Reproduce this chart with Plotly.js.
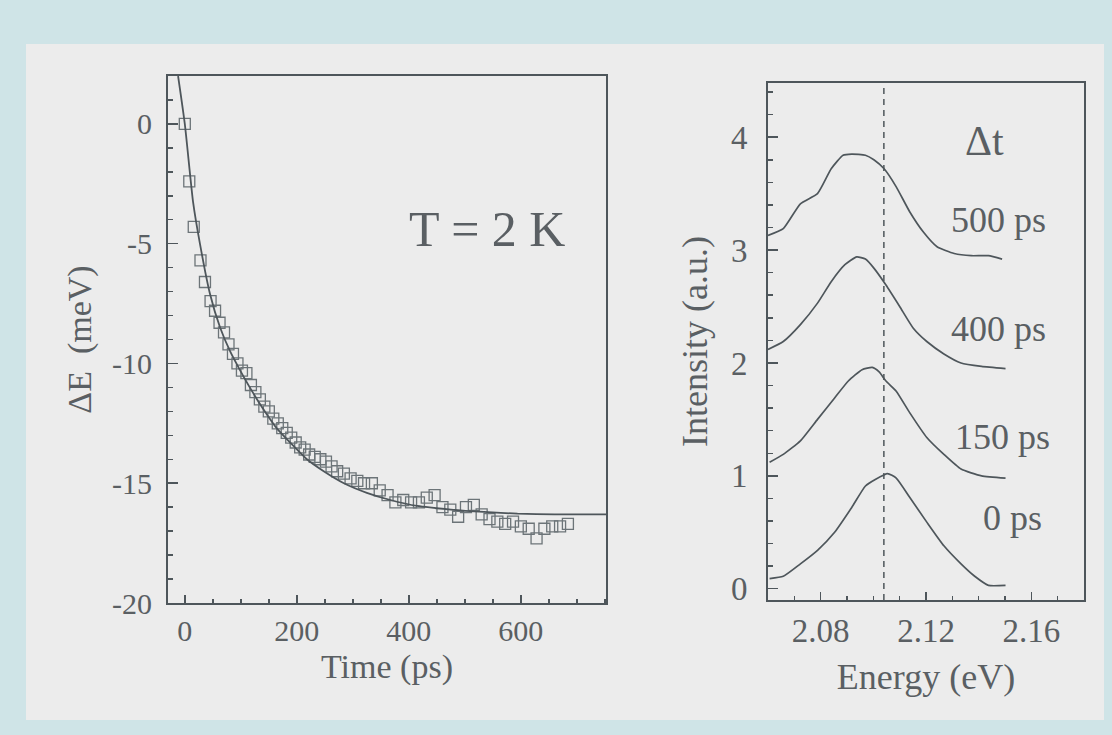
<!DOCTYPE html>
<html>
<head>
<meta charset="utf-8">
<script src="https://cdn.plot.ly/plotly-3.0.1.min.js"></script>
<style>
  html, body { margin: 0; padding: 0; width: 1112px; height: 735px; background: #cfe4e7; overflow: hidden; }
  #paper { position: absolute; left: 26px; top: 44px; width: 1078px; height: 676px; background: #ececec; }
  #plot { position: absolute; left: 0; top: 0; width: 1112px; height: 735px; }
</style>
</head>
<body>
<div id="paper"></div>
<div id="plot"></div>
<script>
// ---- Left panel: energy shift vs time (T = 2 K) ----
const timePs = [0, 8, 16, 28, 36, 46, 54, 62, 70, 78, 86, 94, 102, 110, 118, 126, 134, 142, 150, 158, 166, 174, 182, 190, 198, 206, 214, 222, 232, 242, 252, 262, 272, 284, 296, 308, 320, 334, 348, 362, 376, 390, 404, 418, 432, 446, 460, 474, 488, 502, 516, 530, 544, 558, 572, 586, 600, 614, 628, 642, 656, 670, 684];
const deltaE = [0, -2.4, -4.3, -5.7, -6.6, -7.4, -7.8, -8.3, -8.7, -9.2, -9.6, -10.0, -10.3, -10.4, -10.9, -11.2, -11.5, -11.8, -12.0, -12.3, -12.5, -12.7, -12.9, -13.1, -13.3, -13.5, -13.6, -13.8, -13.9, -14.0, -14.1, -14.3, -14.5, -14.6, -14.8, -14.9, -15.0, -15.0, -15.3, -15.5, -15.8, -15.7, -15.8, -15.8, -15.6, -15.5, -16.0, -16.1, -16.4, -16.0, -15.9, -16.3, -16.5, -16.6, -16.7, -16.6, -16.8, -16.9, -17.3, -16.9, -16.8, -16.8, -16.7];
const fitTime = [-12, 0, 15, 27, 45, 63, 81, 99, 116, 140, 164, 188, 218, 248, 284, 325, 367, 415, 475, 534, 594, 660, 755];
const fitDeltaE = [2.0, 0, -3.3, -5.0, -7.1, -8.5, -9.5, -10.3, -11.0, -11.9, -12.7, -13.3, -14.0, -14.5, -15.0, -15.4, -15.7, -15.95, -16.1, -16.2, -16.27, -16.3, -16.3];
const leftYTicks = [0, -5, -10, -15, -20];
const leftYTickText = ['0', '-5', '-10', '-15', '-20'];
const leftXTicks = [0, 200, 400, 600];

// ---- Right panel: spectra at different delays ----
const spectraLabels = ['0 ps', '150 ps', '400 ps', '500 ps'];
const energy0 = [2.0606, 2.0658, 2.0723, 2.0788, 2.0853, 2.0918, 2.0970, 2.1009, 2.1054, 2.1087, 2.1138, 2.1203, 2.1268, 2.1333, 2.1385, 2.1437, 2.1502];
const intensity0 = [0.09, 0.11, 0.22, 0.34, 0.50, 0.72, 0.91, 0.97, 1.02, 0.98, 0.81, 0.59, 0.38, 0.22, 0.11, 0.03, 0.03];
const energy150 = [2.0606, 2.0658, 2.0723, 2.0788, 2.0853, 2.0905, 2.0957, 2.0996, 2.1022, 2.1048, 2.1087, 2.1138, 2.1203, 2.1268, 2.1333, 2.1411, 2.1502];
const intensity150 = [1.12, 1.19, 1.31, 1.50, 1.69, 1.84, 1.94, 1.96, 1.92, 1.84, 1.75, 1.56, 1.34, 1.19, 1.06, 1.00, 0.98];
const energy400 = [2.0600, 2.0658, 2.0723, 2.0788, 2.0840, 2.0892, 2.0937, 2.0970, 2.1002, 2.1048, 2.1100, 2.1151, 2.1203, 2.1268, 2.1333, 2.1411, 2.1502];
const intensity400 = [2.12, 2.19, 2.34, 2.53, 2.72, 2.87, 2.94, 2.92, 2.84, 2.69, 2.50, 2.31, 2.19, 2.08, 2.00, 1.97, 1.95];
const energy500 = [2.0600, 2.0658, 2.0723, 2.0788, 2.0840, 2.0885, 2.0918, 2.0970, 2.1002, 2.1041, 2.1087, 2.1138, 2.1190, 2.1242, 2.1307, 2.1372, 2.1437, 2.1489];
const intensity500 = [3.13, 3.19, 3.41, 3.50, 3.72, 3.84, 3.85, 3.84, 3.80, 3.72, 3.56, 3.34, 3.16, 3.03, 2.97, 2.95, 2.95, 2.92];
const labelEnergy = [2.1528, 2.1490, 2.1476, 2.1476];
const labelIntensity = [0.63, 1.34, 2.30, 3.27];
const referenceEnergy = 2.104;
const referenceSpan = [-0.1, 4.48];
const rightYTicks = [0, 1, 2, 3, 4];
const rightXTicks = [2.08, 2.12, 2.16];

const ink = '#4e565b';
const txt = '#5a5f63';
const serif = 'Liberation Serif, Times New Roman, serif';

const specLine = { color: ink, width: 1.7, shape: 'spline', smoothing: 0.5 };
const traces = [
  { x: timePs, y: deltaE, xaxis: 'x', yaxis: 'y', mode: 'markers', type: 'scatter',
    marker: { symbol: 'square-open', size: 11, color: '#6c7478', line: { width: 1.3, color: '#6c7478' } } },
  { x: fitTime, y: fitDeltaE, xaxis: 'x', yaxis: 'y', mode: 'lines', type: 'scatter',
    line: { color: ink, width: 1.8, shape: 'spline', smoothing: 0.6 } },
  { x: energy0, y: intensity0, xaxis: 'x2', yaxis: 'y2', mode: 'lines', type: 'scatter', line: specLine },
  { x: energy150, y: intensity150, xaxis: 'x2', yaxis: 'y2', mode: 'lines', type: 'scatter', line: specLine },
  { x: energy400, y: intensity400, xaxis: 'x2', yaxis: 'y2', mode: 'lines', type: 'scatter', line: specLine },
  { x: energy500, y: intensity500, xaxis: 'x2', yaxis: 'y2', mode: 'lines', type: 'scatter', line: specLine },
  { x: [referenceEnergy, referenceEnergy], y: referenceSpan, xaxis: 'x2', yaxis: 'y2', mode: 'lines', type: 'scatter',
    line: { color: ink, width: 1.5, dash: '6px,5px' } }
];

const annotations = [
  { text: 'T = 2 K', x: 540, y: -4.4, xref: 'x', yref: 'y', showarrow: false,
    font: { family: serif, size: 50, color: txt } },
  { text: '\u0394t', x: 2.1424, y: 3.97, xref: 'x2', yref: 'y2', showarrow: false,
    font: { family: serif, size: 42, color: txt } }
];
spectraLabels.forEach((lab, i) => {
  annotations.push({ text: lab, x: labelEnergy[i], y: labelIntensity[i], xref: 'x2', yref: 'y2', showarrow: false,
    font: { family: serif, size: 36, color: txt } });
});

const axisCommon = {
  showline: true, mirror: true, linecolor: ink, linewidth: 2,
  ticks: 'inside', tickcolor: ink, tickwidth: 1.5, showgrid: false, zeroline: false,
  tickfont: { family: serif, size: 30, color: txt }
};

const layout = {
  width: 1112, height: 735,
  margin: { l: 0, r: 0, t: 0, b: 0 },
  paper_bgcolor: 'rgba(0,0,0,0)', plot_bgcolor: 'rgba(0,0,0,0)',
  showlegend: false,
  xaxis: Object.assign({}, axisCommon, {
    domain: [168/1112, 606/1112], range: [-30, 752], anchor: 'y',
    tickvals: leftXTicks, ticklen: 8, minor: { dtick: 50, ticks: 'inside', ticklen: 4, tickcolor: ink },
    title: { text: 'Time (ps)', font: { family: serif, size: 34, color: txt }, standoff: 8 }
  }),
  yaxis: Object.assign({}, axisCommon, {
    domain: [(735-603)/735, (735-76)/735], range: [-20, 2], anchor: 'x',
    tickvals: leftYTicks, ticktext: leftYTickText, ticklen: 10, ticklabelstandoff: 8,
    minor: { dtick: 1, ticks: 'inside', ticklen: 5, tickcolor: ink },
    title: { text: '\u0394E  (meV)', font: { family: serif, size: 34, color: txt }, standoff: 10 }
  }),
  xaxis2: Object.assign({}, axisCommon, {
    domain: [768/1112, 1084/1112], range: [2.06, 2.18], anchor: 'y2',
    tickvals: rightXTicks, ticktext: ['2.08', '2.12', '2.16'], ticklen: 8,
    tickfont: { family: serif, size: 33, color: txt },
    minor: { dtick: 0.01, ticks: 'inside', ticklen: 4, tickcolor: ink },
    title: { text: 'Energy (eV)', font: { family: serif, size: 36, color: txt }, standoff: 16 }
  }),
  yaxis2: Object.assign({}, axisCommon, {
    domain: [(735-600)/735, (735-83)/735], range: [-0.1, 4.48], anchor: 'x2',
    tickvals: rightYTicks, ticklen: 10, ticklabelstandoff: 12,
    tickfont: { family: serif, size: 33, color: txt },
    minor: { dtick: 0.2, ticks: 'inside', ticklen: 5, tickcolor: ink },
    title: { text: 'Intensity (a.u.)', font: { family: serif, size: 36, color: txt }, standoff: 12 }
  }),
  annotations: annotations
};

Plotly.newPlot('plot', traces, layout, { staticPlot: true, displayModeBar: false });
</script>
</body>
</html>
